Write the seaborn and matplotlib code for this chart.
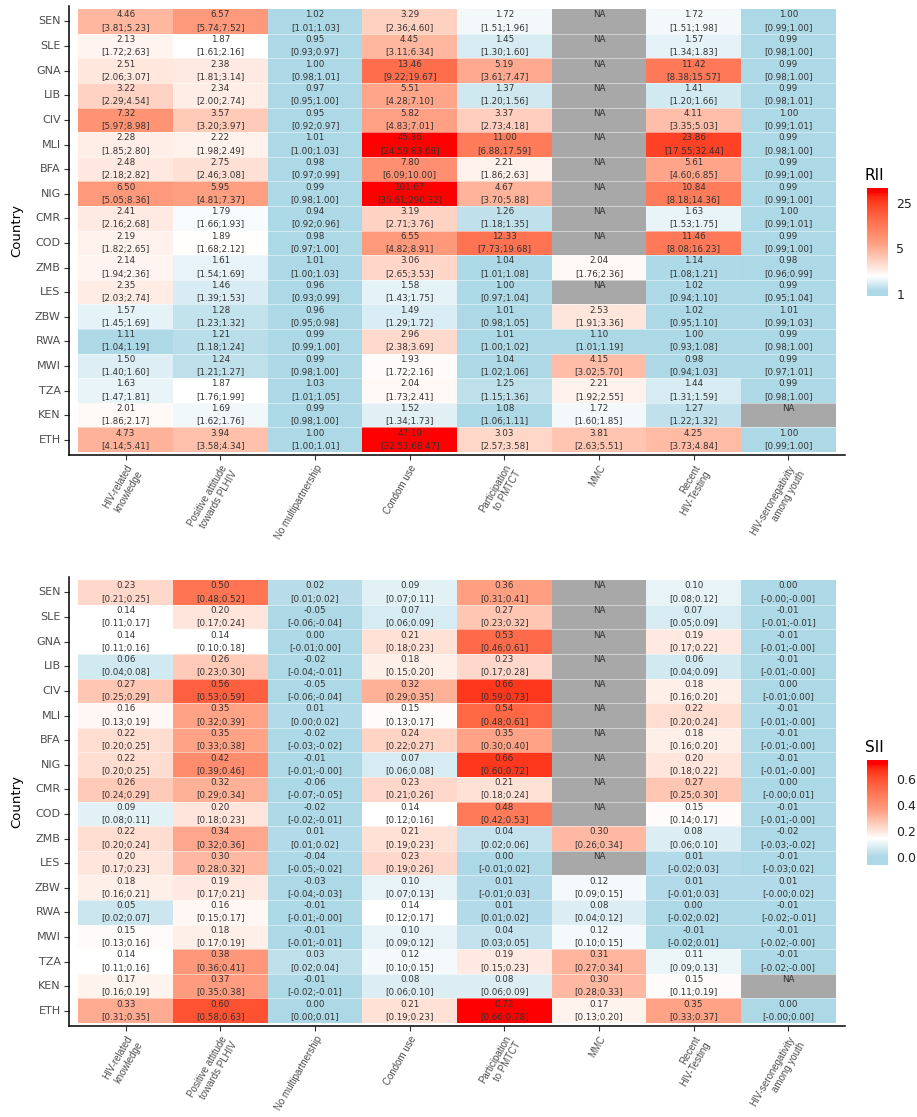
import numpy as np
import pandas as pd
import matplotlib
matplotlib.use("Agg")
import matplotlib.pyplot as plt
import matplotlib.colors as mcolors
import seaborn as sns

# ---------------- data ----------------
COUNTRIES = ["SEN", "SLE", "GNA", "LIB", "CIV", "MLI", "BFA", "NIG", "CMR", "COD",
             "ZMB", "LES", "ZBW", "RWA", "MWI", "TZA", "KEN", "ETH"]
INDICATORS = ["HIV-related\nknowledge", "Positive attitude\ntowards PLHIV", "No multipartnership",
              "Condom use", "Participation\nto PMTCT", "MMC", "Recent\nHIV-Testing",
              "HIV-seronegativity\namong youth"]

# RII estimates (None = NA) and confidence intervals, one list per indicator
rii_knowledge = [4.46, 2.13, 2.51, 3.22, 7.32, 2.28, 2.48, 6.50, 2.41, 2.19, 2.14, 2.35, 1.57, 1.11, 1.50, 1.63, 2.01, 4.73]
rii_knowledge_ci = ["3.81;5.23", "1.72;2.63", "2.06;3.07", "2.29;4.54", "5.97;8.98", "1.85;2.80", "2.18;2.82", "5.05;8.36", "2.16;2.68",
                    "1.82;2.65", "1.94;2.36", "2.03;2.74", "1.45;1.69", "1.04;1.19", "1.40;1.60", "1.47;1.81", "1.86;2.17", "4.14;5.41"]
rii_attitude = [6.57, 1.87, 2.38, 2.34, 3.57, 2.22, 2.75, 5.95, 1.79, 1.89, 1.61, 1.46, 1.28, 1.21, 1.24, 1.87, 1.69, 3.94]
rii_attitude_ci = ["5.74;7.52", "1.61;2.16", "1.81;3.14", "2.00;2.74", "3.20;3.97", "1.98;2.49", "2.46;3.08", "4.81;7.37", "1.66;1.93",
                   "1.68;2.12", "1.54;1.69", "1.39;1.53", "1.23;1.32", "1.18;1.24", "1.21;1.27", "1.76;1.99", "1.62;1.76", "3.58;4.34"]
rii_multipart = [1.02, 0.95, 1.00, 0.97, 0.95, 1.01, 0.98, 0.99, 0.94, 0.98, 1.01, 0.96, 0.96, 0.99, 0.99, 1.03, 0.99, 1.00]
rii_multipart_ci = ["1.01;1.03", "0.93;0.97", "0.98;1.01", "0.95;1.00", "0.92;0.97", "1.00;1.03", "0.97;0.99", "0.98;1.00", "0.92;0.96",
                    "0.97;1.00", "1.00;1.03", "0.93;0.99", "0.95;0.98", "0.99;1.00", "0.98;1.00", "1.01;1.05", "0.98;1.00", "1.00;1.01"]
rii_condom = [3.29, 4.45, 13.46, 5.51, 5.82, 45.36, 7.80, 101.67, 3.19, 6.55, 3.06, 1.58, 1.49, 2.96, 1.93, 2.04, 1.52, 47.19]
rii_condom_ci = ["2.36;4.60", "3.11;6.34", "9.22;19.67", "4.28;7.10", "4.83;7.01", "24.59;83.68", "6.09;10.00", "35.61;290.32", "2.71;3.76",
                 "4.82;8.91", "2.65;3.53", "1.43;1.75", "1.29;1.72", "2.38;3.69", "1.72;2.16", "1.73;2.41", "1.34;1.73", "32.53;68.47"]
rii_pmtct = [1.72, 1.45, 5.19, 1.37, 3.37, 11.00, 2.21, 4.67, 1.26, 12.33, 1.04, 1.00, 1.01, 1.01, 1.04, 1.25, 1.08, 3.03]
rii_pmtct_ci = ["1.51;1.96", "1.30;1.60", "3.61;7.47", "1.20;1.56", "2.73;4.18", "6.88;17.59", "1.86;2.63", "3.70;5.88", "1.18;1.35",
                "7.73;19.68", "1.01;1.08", "0.97;1.04", "0.98;1.05", "1.00;1.02", "1.02;1.06", "1.15;1.36", "1.06;1.11", "2.57;3.58"]
rii_mmc = [None, None, None, None, None, None, None, None, None, None, 2.04, None, 2.53, 1.10, 4.15, 2.21, 1.72, 3.81]
rii_mmc_ci = ["", "", "", "", "", "", "", "", "", "", "1.76;2.36", "", "1.91;3.36", "1.01;1.19", "3.02;5.70", "1.92;2.55", "1.60;1.85", "2.63;5.51"]
rii_testing = [1.72, 1.57, 11.42, 1.41, 4.11, 23.86, 5.61, 10.84, 1.63, 11.46, 1.14, 1.02, 1.02, 1.00, 0.98, 1.44, 1.27, 4.25]
rii_testing_ci = ["1.51;1.98", "1.34;1.83", "8.38;15.57", "1.20;1.66", "3.35;5.03", "17.55;32.44", "4.60;6.85", "8.18;14.36", "1.53;1.75",
                  "8.08;16.23", "1.08;1.21", "0.94;1.10", "0.95;1.10", "0.93;1.08", "0.94;1.03", "1.31;1.59", "1.22;1.32", "3.73;4.84"]
rii_seroneg = [1.00, 0.99, 0.99, 0.99, 1.00, 0.99, 0.99, 0.99, 1.00, 0.99, 0.98, 0.99, 1.01, 0.99, 0.99, 0.99, None, 1.00]
rii_seroneg_ci = ["0.99;1.00", "0.98;1.00", "0.98;1.00", "0.98;1.01", "0.99;1.01", "0.98;1.00", "0.99;1.00", "0.99;1.00", "0.99;1.01",
                  "0.99;1.00", "0.96;0.99", "0.95;1.04", "0.99;1.03", "0.98;1.00", "0.97;1.01", "0.98;1.00", "", "0.99;1.00"]

# SII estimates and confidence intervals
sii_knowledge = [0.23, 0.14, 0.14, 0.06, 0.27, 0.16, 0.22, 0.22, 0.26, 0.09, 0.22, 0.20, 0.18, 0.05, 0.15, 0.14, 0.17, 0.33]
sii_knowledge_ci = ["0.21;0.25", "0.11;0.17", "0.11;0.16", "0.04;0.08", "0.25;0.29", "0.13;0.19", "0.20;0.25", "0.20;0.25", "0.24;0.29",
                    "0.08;0.11", "0.20;0.24", "0.17;0.23", "0.16;0.21", "0.02;0.07", "0.13;0.16", "0.11;0.16", "0.16;0.19", "0.31;0.35"]
sii_attitude = [0.50, 0.20, 0.14, 0.26, 0.56, 0.35, 0.35, 0.42, 0.32, 0.20, 0.34, 0.30, 0.19, 0.16, 0.18, 0.38, 0.37, 0.60]
sii_attitude_ci = ["0.48;0.52", "0.17;0.24", "0.10;0.18", "0.23;0.30", "0.53;0.59", "0.32;0.39", "0.33;0.38", "0.39;0.46", "0.29;0.34",
                   "0.18;0.23", "0.32;0.36", "0.28;0.32", "0.17;0.21", "0.15;0.17", "0.17;0.19", "0.36;0.41", "0.35;0.38", "0.58;0.63"]
sii_multipart = [0.02, -0.05, 0.00, -0.02, -0.05, 0.01, -0.02, -0.01, -0.06, -0.02, 0.01, -0.04, -0.03, -0.01, -0.01, 0.03, -0.01, 0.00]
sii_multipart_ci = ["0.01;0.02", "-0.06;-0.04", "-0.01;0.00", "-0.04;-0.01", "-0.06;-0.04", "0.00;0.02", "-0.03;-0.02", "-0.01;-0.00",
                    "-0.07;-0.05", "-0.02;-0.01", "0.01;0.02", "-0.05;-0.02", "-0.04;-0.03", "-0.01;-0.00", "-0.01;-0.01", "0.02;0.04",
                    "-0.02;-0.01", "0.00;0.01"]
sii_condom = [0.09, 0.07, 0.21, 0.18, 0.32, 0.15, 0.24, 0.07, 0.23, 0.14, 0.21, 0.23, 0.10, 0.14, 0.10, 0.12, 0.08, 0.21]
sii_condom_ci = ["0.07;0.11", "0.06;0.09", "0.18;0.23", "0.15;0.20", "0.29;0.35", "0.13;0.17", "0.22;0.27", "0.06;0.08", "0.21;0.26",
                 "0.12;0.16", "0.19;0.23", "0.19;0.26", "0.07;0.13", "0.12;0.17", "0.09;0.12", "0.10;0.15", "0.06;0.10", "0.19;0.23"]
sii_pmtct = [0.36, 0.27, 0.53, 0.23, 0.66, 0.54, 0.35, 0.66, 0.21, 0.48, 0.04, 0.00, 0.01, 0.01, 0.04, 0.19, 0.08, 0.72]
sii_pmtct_ci = ["0.31;0.41", "0.23;0.32", "0.46;0.61", "0.17;0.28", "0.59;0.73", "0.48;0.61", "0.30;0.40", "0.60;0.72", "0.18;0.24",
                "0.42;0.53", "0.02;0.06", "-0.01;0.02", "-0.01;0.03", "0.01;0.02", "0.03;0.05", "0.15;0.23", "0.06;0.09", "0.66;0.78"]
sii_mmc = [None, None, None, None, None, None, None, None, None, None, 0.30, None, 0.12, 0.08, 0.12, 0.31, 0.30, 0.17]
sii_mmc_ci = ["", "", "", "", "", "", "", "", "", "", "0.26;0.34", "", "0.09;0.15", "0.04;0.12", "0.10;0.15", "0.27;0.34", "0.28;0.33", "0.13;0.20"]
sii_testing = [0.10, 0.07, 0.19, 0.06, 0.18, 0.22, 0.18, 0.20, 0.27, 0.15, 0.08, 0.01, 0.01, 0.00, -0.01, 0.11, 0.15, 0.35]
sii_testing_ci = ["0.08;0.12", "0.05;0.09", "0.17;0.22", "0.04;0.09", "0.16;0.20", "0.20;0.24", "0.16;0.20", "0.18;0.22", "0.25;0.30",
                  "0.14;0.17", "0.06;0.10", "-0.02;0.03", "-0.01;0.03", "-0.02;0.02", "-0.02;0.01", "0.09;0.13", "0.11;0.19", "0.33;0.37"]
sii_seroneg = [0.00, -0.01, -0.01, -0.01, 0.00, -0.01, -0.01, -0.01, 0.00, -0.01, -0.02, -0.01, 0.01, -0.01, -0.01, -0.01, None, 0.00]
sii_seroneg_ci = ["-0.00;-0.00", "-0.01;-0.01", "-0.01;-0.00", "-0.01;-0.00", "-0.01;0.00", "-0.01;-0.00", "-0.01;-0.00", "-0.01;-0.00",
                  "-0.00;0.01", "-0.01;-0.00", "-0.03;-0.02", "-0.03;0.02", "-0.00;0.02", "-0.02;-0.01", "-0.02;-0.00", "-0.02;-0.00",
                  "", "-0.00;0.00"]

RII_COLS = [rii_knowledge, rii_attitude, rii_multipart, rii_condom, rii_pmtct, rii_mmc, rii_testing, rii_seroneg]
RII_CIS = [rii_knowledge_ci, rii_attitude_ci, rii_multipart_ci, rii_condom_ci, rii_pmtct_ci, rii_mmc_ci, rii_testing_ci, rii_seroneg_ci]
SII_COLS = [sii_knowledge, sii_attitude, sii_multipart, sii_condom, sii_pmtct, sii_mmc, sii_testing, sii_seroneg]
SII_CIS = [sii_knowledge_ci, sii_attitude_ci, sii_multipart_ci, sii_condom_ci, sii_pmtct_ci, sii_mmc_ci, sii_testing_ci, sii_seroneg_ci]

# ---------------- colour helpers (Lab interpolation like ggplot) ----------------
_M = np.array([[0.4124564, 0.3575761, 0.1804375],
               [0.2126729, 0.7151522, 0.0721750],
               [0.0193339, 0.1191920, 0.9503041]])
_WP = np.array([0.95047, 1.0, 1.08883])


def to_lab(c):
    rgb = np.array(mcolors.to_rgb(c))
    lin = np.where(rgb <= 0.04045, rgb / 12.92, ((rgb + 0.055) / 1.055) ** 2.4)
    r = (_M @ lin) / _WP
    d = 6 / 29
    f = np.where(r > d ** 3, np.cbrt(r), r / (3 * d * d) + 4 / 29)
    return np.array([116 * f[1] - 16, 500 * (f[0] - f[1]), 200 * (f[1] - f[2])])


def from_lab(lab):
    L, a, b = lab[..., 0], lab[..., 1], lab[..., 2]
    fy = (L + 16) / 116
    f = np.stack([fy + a / 500, fy, fy - b / 200], -1)
    d = 6 / 29
    r = np.where(f > d, f ** 3, 3 * d * d * (f - 4 / 29)) * _WP
    lin = np.clip(r @ np.linalg.inv(_M).T, 0, 1)
    rgb = np.where(lin <= 0.0031308, 12.92 * lin, 1.055 * lin ** (1 / 2.4) - 0.055)
    return np.clip(rgb, 0, 1)


def make_cmap(norm, nodes, fwd):
    # nodes: list of (value, lab colour); interpolate in transformed space
    t = np.linspace(0, 1, 256)
    vals = np.asarray(norm.inverse(t), float)
    s = fwd(vals)
    ns = np.array([fwd(np.array([v]))[0] for v, _ in nodes])
    labs = np.array([c for _, c in nodes])
    out = np.empty((256, 3))
    for k in range(3):
        out[:, k] = np.interp(s, ns, labs[:, k])
    return mcolors.ListedColormap(from_lab(out))


BLUE = to_lab("#ADD8E6")
WHITE = to_lab("#FFFFFF")
RED = to_lab("#FF0000")
MID = 0.5 * (WHITE + RED)

rii_norm = mcolors.LogNorm(vmin=0.93, vmax=42, clip=True)
rii_cmap = make_cmap(rii_norm, [(1.12, BLUE), (1.85, WHITE), (6.0, MID), (36, RED)], np.log)
sii_norm = mcolors.Normalize(vmin=-0.065, vmax=0.75, clip=True)
sii_cmap = make_cmap(sii_norm, [(0.0, BLUE), (0.14, WHITE), (0.36, MID), (0.72, RED)], lambda v: v)

# ---------------- figure ----------------
sns.set_theme(style="white")
plt.rcParams["font.family"] = ["DejaVu Sans"]

W, H = 917, 1117
fig = plt.figure(figsize=(W / 100, H / 100), dpi=100)


def fx(px):
    return px / W


def fy(py):
    return 1 - py / H


def panel(ax_box, cax_box, title_xy, cols, cis, norm, cmap, ticks, ticklabels, title, fmt):
    ax = fig.add_axes(ax_box)
    cax = fig.add_axes(cax_box)
    est = pd.DataFrame({ind: [np.nan if v is None else v for v in col] for ind, col in zip(INDICATORS, cols)},
                       index=COUNTRIES)
    na = est.isna()
    sns.heatmap(est, ax=ax, cmap=cmap, norm=norm, mask=na, cbar_ax=cax,
                linewidths=0, square=False)
    sns.heatmap(na.astype(float), ax=ax, cmap=mcolors.ListedColormap(["#A8A8A8"]),
                mask=~na, cbar=False, linewidths=0)
    # horizontal separators between rows
    ax.hlines(np.arange(1, len(COUNTRIES)), 0, len(INDICATORS), colors="white", lw=0.6, alpha=0.55)
    # text in cells
    for j, (col, ci) in enumerate(zip(cols, cis)):
        for i, v in enumerate(col):
            if v is None:
                ax.text(j + 0.5, i + 0.5 - 0.27, "NA", ha="center", va="center", fontsize=6.3, color="#333333")
            else:
                ax.text(j + 0.5, i + 0.5 - 0.27, fmt.format(v), ha="center", va="center", fontsize=6.3, color="#333333")
                ax.text(j + 0.5, i + 0.5 + 0.27, "[" + ci[i] + "]", ha="center", va="center", fontsize=6.3, color="#333333")
    ax.set_xlim(-0.1, len(INDICATORS) + 0.1)
    ax.set_ylim(len(COUNTRIES) + 0.12, -0.13)
    for side in ["top", "right"]:
        ax.spines[side].set_visible(False)
    for side in ["left", "bottom"]:
        ax.spines[side].set_visible(True)
        ax.spines[side].set_color("black")
        ax.spines[side].set_linewidth(1.1)
    ax.set_yticks(np.arange(len(COUNTRIES)) + 0.5)
    ax.set_yticklabels(COUNTRIES, rotation=0, fontsize=8, color="#4D4D4D")
    ax.set_xticks(np.arange(len(INDICATORS)) + 0.5)
    ax.set_xticklabels(INDICATORS, rotation=60, ha="right", va="top", rotation_mode="anchor",
                       fontsize=7, color="#4D4D4D", multialignment="right",
                       family=["Liberation Sans", "DejaVu Sans"])
    ax.tick_params(axis="both", length=3.5, width=0.8, color="#333333", left=True, bottom=True, pad=2.5)
    ax.set_xlabel("")
    ax.set_ylabel("Country", fontsize=9.5, color="black", labelpad=8)
    cb = ax.collections[0].colorbar
    cb.outline.set_visible(False)
    cb.set_ticks(ticks)
    cb.set_ticklabels(ticklabels)
    cb.ax.minorticks_off()
    cb.ax.tick_params(length=0, labelsize=9, labelcolor="#222222", pad=6)
    fig.text(fx(title_xy[0]), fy(title_xy[1]), title, fontsize=11, color="black", ha="left", va="center")
    return ax


panel([fx(69), fy(455), fx(845 - 69), (455 - 6) / H],
      [fx(867), fy(296), fx(21), 108 / H], (865, 176),
      RII_COLS, RII_CIS, rii_norm, rii_cmap, [1, 5, 25], ["1", "5", "25"], "RII", "{:.2f}")

panel([fx(69), fy(1026), fx(845 - 69), (1026 - 577) / H],
      [fx(867), fy(865), fx(21), 105 / H], (865, 748),
      SII_COLS, SII_CIS, sii_norm, sii_cmap, [0.0, 0.2, 0.4, 0.6], ["0.0", "0.2", "0.4", "0.6"], "SII", "{:.2f}")

fig.savefig("out.png", dpi=100)
